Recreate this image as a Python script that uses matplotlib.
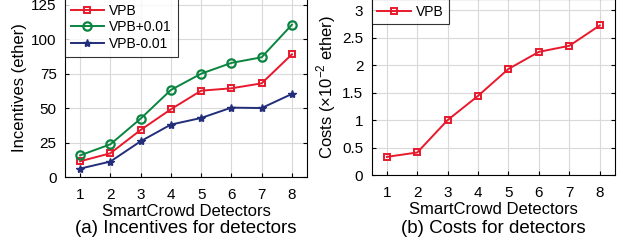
import matplotlib
matplotlib.use('Agg')
import matplotlib.pyplot as plt
import numpy as np

plt.rcParams['font.family'] = ['Liberation Sans', 'DejaVu Sans']
plt.rcParams['mathtext.fontset'] = 'custom'
plt.rcParams['mathtext.rm'] = 'Liberation Sans'

# 数据
detectors = [1, 2, 3, 4, 5, 6, 7, 8]
vpb = [11.6, 17.4, 34.3, 49.3, 62.8, 64.5, 68.1, 89.1]
vpb_plus = [15.9, 23.9, 42.5, 63.3, 75.1, 82.9, 87.0, 110.6]
vpb_minus = [6.3, 11.4, 26.1, 38.2, 43.0, 50.5, 50.2, 60.4]
costs = [0.33, 0.41, 1.0, 1.44, 1.93, 2.24, 2.35, 2.72]

red = '#e8192c'
green = '#0a8540'
blue = '#222e7a'

fig = plt.figure(figsize=(6.23, 2.43), dpi=100)
ax1 = fig.add_axes([0.1043, 0.2704, 0.3885, 0.738])
ax2 = fig.add_axes([0.5966, 0.2798, 0.3904, 0.724])

def style(ax):
    ax.grid(True, color='#d9d9d9', linewidth=0.8)
    ax.set_axisbelow(True)
    ax.tick_params(direction='in', length=3, labelsize=11, right=True, top=False, pad=8)
    for s in ax.spines.values():
        s.set_linewidth(0.8)
    ax.set_xlim(0.5, 8.5)
    ax.set_xticks(detectors)
    ax.set_xlabel('SmartCrowd Detectors', fontsize=12, labelpad=1)

# (a)
ax1.plot(detectors, vpb, color=red, lw=1.4, marker='s', ms=4.5, mfc='none', mew=1.4, label='VPB')
ax1.plot(detectors, vpb_plus, color=green, lw=1.4, marker='o', ms=6, mfc='none', mew=1.6, label='VPB+0.01')
ax1.plot(detectors, vpb_minus, color=blue, lw=1.4, marker='*', ms=6, label='VPB-0.01')
style(ax1)
ax1.tick_params(axis='y', pad=6)
ax1.set_ylim(0, 130)
ax1.set_yticks([0, 25, 50, 75, 100, 125])
ax1.set_ylabel('Incentives (ether)', fontsize=12, labelpad=3)
leg = ax1.legend(loc='upper left', fontsize=10, frameon=True, fancybox=False, borderaxespad=0,
                 handlelength=2.4, handletextpad=0.4, borderpad=0.4, labelspacing=0.2)
leg.get_frame().set_edgecolor('black')
leg.get_frame().set_linewidth(0.8)

# (b)
ax2.plot(detectors, costs, color=red, lw=1.4, marker='s', ms=4.5, mfc='none', mew=1.4, label='VPB')
style(ax2)
ax2.tick_params(axis='y', pad=6)
ax2.set_ylim(0, 3.2)
ax2.set_yticks([0, 0.5, 1, 1.5, 2, 2.5, 3])
ax2.set_yticklabels(['0', '0.5', '1', '1.5', '2', '2.5', '3'])
ax2.set_ylabel('Costs (×10$^{-2}$ ether)', fontsize=12, labelpad=3)
leg2 = ax2.legend(loc='upper left', fontsize=10, frameon=True, fancybox=False, borderaxespad=0,
                  handlelength=2.4, handletextpad=0.4, borderpad=0.4)
leg2.get_frame().set_edgecolor('black')
leg2.get_frame().set_linewidth(0.8)

fig.text(0.1043 + 0.3885 / 2, 0.06, '(a) Incentives for detectors', ha='center', va='center', fontsize=13.5)
fig.text(0.5966 + 0.3904 / 2, 0.06, '(b) Costs for detectors', ha='center', va='center', fontsize=13.5)

fig.savefig('out.png', dpi=100)
